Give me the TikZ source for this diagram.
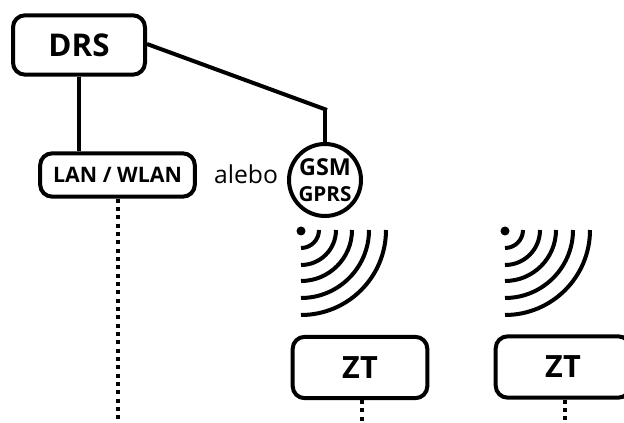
\documentclass[tikz,border=0pt]{standalone}
\usepackage{fontspec}
\setmainfont{Open Sans}
\usetikzlibrary{positioning}

\tikzset{
  box/.style={draw,line width=3pt,rounded corners=9pt,inner sep=0pt,font=\bfseries},
  wire/.style={line width=3pt},
  dots/.style={line width=3pt,dash pattern=on 3pt off 3.25pt},
  wave/.style={line width=3pt}
}

\begin{document}
\begin{tikzpicture}[x=0.75pt,y=-0.75pt]
  \useasboundingbox (0,0) rectangle (624,423);

  \node[box,minimum width=99pt,minimum height=44.5pt,font=\bfseries\fontsize{23.5}{23.5}\selectfont] (DRS) at (79,45) {DRS};
  \node[box,minimum width=116pt,minimum height=32.5pt,font=\bfseries\fontsize{16}{16}\selectfont] (LAN) at (117.5,175) {LAN / WLAN};
  \node[draw,circle,line width=3pt,minimum size=54pt,inner sep=0pt,align=center,font=\bfseries\fontsize{17.5}{20}\selectfont] (GSM) at (325,180) {GSM\\\fontsize{15.5}{20}\selectfont GPRS};
  \node[font=\fontsize{18.5}{18.5}\selectfont] (or) at (246,174) {alebo};
  \node[box,minimum width=101pt,minimum height=46pt,font=\bfseries\fontsize{23}{23}\selectfont] (ZT1) at (360,367.5) {ZT};
  \node[box,minimum width=101pt,minimum height=46pt,font=\bfseries\fontsize{23}{23}\selectfont] (ZT2) at (563,367) {ZT};

  \coordinate (bend) at (327,110);
  \coordinate (drop) at (325,108.5);
  \coordinate (end0) at (118,423);
  \coordinate (end1) at (362,423);
  \coordinate (end2) at (565,423);

  \draw[wire] (DRS) -- (LAN.north -| 79,0);
  \draw[wire] (DRS.east |- 0,44) -- (bend);
  \draw[wire] (drop) -- (GSM.north -| drop);
  \draw[dots] (LAN.south -| end0) -- (end0);
  \draw[dots] (ZT1.south -| end1) -- (end1);
  \draw[dots] (ZT2.south -| end2) -- (end2);

  \foreach \ox in {301,505} {
    \fill (\ox,231) circle (4.5);
    \foreach \r in {18,35,51,68,85}
      \draw[wave] (\ox+\r,230) arc[start angle=0,end angle=90,radius=\r];
  }
\end{tikzpicture}
\end{document}
